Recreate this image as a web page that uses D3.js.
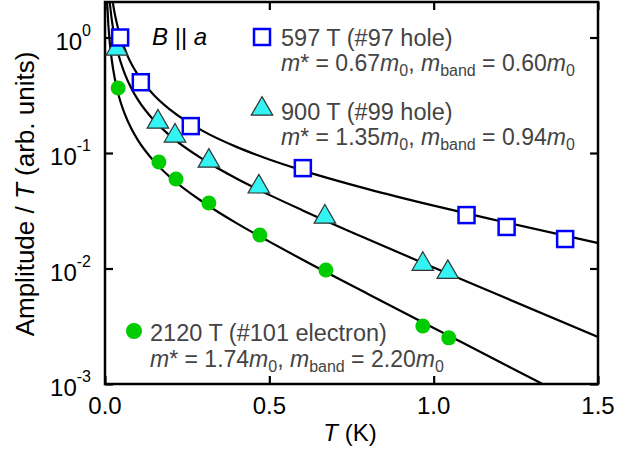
<!DOCTYPE html>
<html>
<head>
<meta charset="utf-8">
<script src="https://cdn.jsdelivr.net/npm/d3@7"></script>
<style>
  body { margin: 0; background: #fff; }
  text { font-family: "Liberation Sans", Arial, sans-serif; }
</style>
</head>
<body>
<div id="chart"></div>
<script>
// measured points (T in K, amplitude / T)
var holeT97 = [0.046, 0.109, 0.261, 0.602, 1.10, 1.222, 1.40];
var holeA97 = [1.0, 0.41, 0.171, 0.074, 0.029, 0.0229, 0.018];

var holeT99 = [0.036, 0.161, 0.213, 0.316, 0.468, 0.669, 0.967, 1.043];
var holeA99 = [0.78, 0.182, 0.138, 0.0836, 0.050, 0.0274, 0.0107, 0.0091];

var elecT101 = [0.04, 0.164, 0.216, 0.316, 0.471, 0.672, 0.967, 1.046];
var elecA101 = [0.366, 0.0836, 0.0596, 0.0369, 0.0195, 0.0097, 0.00318, 0.00251];

// fitted curves
var fitT97 = [0.024, 0.03, 0.04, 0.05, 0.07, 0.1, 0.15, 0.2, 0.3, 0.4, 0.5, 0.6, 0.8, 1.0, 1.2, 1.5];
var fitA97 = [1.985, 1.588, 1.191, 0.953, 0.680, 0.475, 0.315, 0.235, 0.154, 0.113, 0.0879, 0.0708, 0.0487, 0.0350, 0.0258, 0.0166];

var fitT99 = [0.0145, 0.02, 0.03, 0.04, 0.06, 0.08, 0.1, 0.15, 0.2, 0.3, 0.4, 0.5, 0.6, 0.8, 1.0, 1.2, 1.5];
var fitA99 = [2.02, 1.467, 0.977, 0.732, 0.487, 0.364, 0.290, 0.190, 0.1395, 0.0875, 0.0602, 0.0434, 0.0320, 0.0179, 0.0102, 0.00586, 0.00255];

var fitT101 = [0.0065, 0.01, 0.015, 0.02, 0.03, 0.04, 0.06, 0.08, 0.1, 0.15, 0.2, 0.3, 0.4, 0.5, 0.6, 0.8, 1.0, 1.2, 1.331];
var fitA101 = [2.03, 1.317, 0.878, 0.658, 0.438, 0.328, 0.218, 0.1627, 0.1293, 0.0842, 0.0611, 0.0373, 0.0247, 0.01708, 0.01196, 0.00602, 0.00306, 0.00156, 0.001];

var xTicks = [0, 0.5, 1.0, 1.5];
var yTickExp = [0, -1, -2, -3];

var legendNames = ["597 T (#97 hole)", "900 T (#99 hole)", "2120 T (#101 electron)"];
var legendMs = ["0.67", "1.35", "1.74"];
var legendMb = ["0.60", "0.94", "2.20"];

var width = 635, height = 450;
var plotLeft = 105, plotRight = 598, plotTop = 2, plotBottom = 384;

var svg = d3.select("#chart").append("svg")
    .attr("width", width)
    .attr("height", height);

var x = d3.scaleLinear().domain([0, 1.5]).range([plotLeft, plotRight]);
var y = d3.scaleLog().domain([0.001, 2.03]).range([plotBottom, plotTop]);

svg.append("clipPath").attr("id", "clip")
    .append("rect")
    .attr("x", plotLeft).attr("y", plotTop)
    .attr("width", plotRight - plotLeft).attr("height", plotBottom - plotTop);

// fit curves
var line = d3.line()
    .x(d => x(d[0]))
    .y(d => y(d[1]))
    .curve(d3.curveMonotoneX);

var fits = [[fitT97, fitA97], [fitT99, fitA99], [fitT101, fitA101]];
svg.append("g").attr("clip-path", "url(#clip)")
    .selectAll("path")
    .data(fits)
    .enter()
    .append("path")
    .attr("d", f => line(d3.zip(f[0], f[1])))
    .attr("fill", "none")
    .attr("stroke", "#000")
    .attr("stroke-width", 2.2);

// axes: ticks inward on all four sides
var yTickVals = yTickExp.map(e => Math.pow(10, e));
svg.append("g")
    .attr("transform", "translate(" + plotLeft + ",0)")
    .call(d3.axisRight(y).tickValues(yTickVals).tickSize(8).tickFormat(""))
    .call(g => g.select(".domain").remove());
svg.append("g")
    .attr("transform", "translate(" + plotRight + ",0)")
    .call(d3.axisLeft(y).tickValues(yTickVals).tickSize(8).tickFormat(""))
    .call(g => g.select(".domain").remove());
svg.append("g")
    .attr("transform", "translate(0," + plotBottom + ")")
    .call(d3.axisTop(x).tickValues(xTicks).tickSize(8).tickFormat(""))
    .call(g => g.select(".domain").remove());
svg.append("g")
    .attr("transform", "translate(0," + plotTop + ")")
    .call(d3.axisBottom(x).tickValues(xTicks).tickSize(8).tickFormat(""))
    .call(g => g.select(".domain").remove());
svg.selectAll(".tick line").attr("stroke", "#000").attr("stroke-width", 2.2);

svg.append("rect")
    .attr("x", plotLeft).attr("y", plotTop)
    .attr("width", plotRight - plotLeft).attr("height", plotBottom - plotTop)
    .attr("fill", "none")
    .attr("stroke", "#000")
    .attr("stroke-width", 2.5);

// tick labels
svg.selectAll(".xlab")
    .data(xTicks)
    .enter()
    .append("text")
    .attr("x", d => x(d))
    .attr("y", 414)
    .attr("text-anchor", "middle")
    .attr("font-size", 24)
    .text(d => d.toFixed(1));

var ylab = svg.selectAll(".ylab")
    .data(yTickExp)
    .enter()
    .append("text")
    .attr("x", 91)
    .attr("y", d => y(Math.pow(10, d)) + 12)
    .attr("text-anchor", "end")
    .attr("font-size", 24);
ylab.append("tspan").text("10");
ylab.append("tspan").attr("dy", -14).attr("font-size", 16).text(d => d);

// axis titles
var xt = svg.append("text")
    .attr("x", 350).attr("y", 441)
    .attr("text-anchor", "middle")
    .attr("font-size", 24);
xt.append("tspan").attr("font-style", "italic").text("T");
xt.append("tspan").text(" (K)");

var yt = svg.append("text")
    .attr("transform", "translate(34,194) rotate(-90)")
    .attr("text-anchor", "middle")
    .attr("font-size", 26);
yt.append("tspan").text("Amplitude / ");
yt.append("tspan").attr("font-style", "italic").text("T");
yt.append("tspan").text(" (arb. units)");

// markers
var g97 = d3.zip(holeT97, holeA97);
var g99 = d3.zip(holeT99, holeA99);
var g101 = d3.zip(elecT101, elecA101);

var tri = d3.symbol().type(d3.symbolTriangle).size(200);

svg.selectAll(".dot")
    .data(g101)
    .enter()
    .append("circle")
    .attr("cx", d => x(d[0]))
    .attr("cy", d => y(d[1]))
    .attr("r", 7.5)
    .attr("fill", "#00cc00");

svg.selectAll(".tri")
    .data(g99)
    .enter()
    .append("path")
    .attr("d", tri)
    .attr("transform", d => "translate(" + x(d[0]) + "," + (y(d[1]) - 1) + ")")
    .attr("fill", "#33f3f3")
    .attr("stroke", "#333")
    .attr("stroke-width", 1.2);

svg.selectAll(".sq")
    .data(g97)
    .enter()
    .append("rect")
    .attr("x", d => x(d[0]) - 8)
    .attr("y", d => y(d[1]) - 8)
    .attr("width", 16).attr("height", 16)
    .attr("fill", "#fff")
    .attr("stroke", "#0000ff")
    .attr("stroke-width", 2.5);

// B || a
var ba = svg.append("text").attr("x", 152).attr("y", 45).attr("font-size", 24);
ba.append("tspan").attr("font-style", "italic").text("B");
ba.append("tspan").text(" || ");
ba.append("tspan").attr("font-style", "italic").text("a");

// legends
function massLine(sel, xPos, yPos, ms, mb) {
    var t = sel.append("text").attr("x", xPos).attr("y", yPos)
        .attr("font-size", 23).attr("fill", "#444");
    t.append("tspan").attr("font-style", "italic").text("m");
    t.append("tspan").text("* = " + ms);
    t.append("tspan").attr("font-style", "italic").text("m");
    t.append("tspan").attr("font-size", 16).attr("dy", 5).text("0");
    t.append("tspan").attr("dy", -5).text(", ");
    t.append("tspan").attr("font-style", "italic").text("m");
    t.append("tspan").attr("font-size", 16).attr("dy", 5).text("band");
    t.append("tspan").attr("dy", -5).text(" = " + mb);
    t.append("tspan").attr("font-style", "italic").text("m");
    t.append("tspan").attr("font-size", 16).attr("dy", 5).text("0");
}

svg.append("rect")
    .attr("x", 254).attr("y", 29).attr("width", 16).attr("height", 16)
    .attr("fill", "#fff").attr("stroke", "#0000ff").attr("stroke-width", 2.5);
svg.append("text").attr("x", 281).attr("y", 46).attr("font-size", 23.5)
    .attr("fill", "#444").text(legendNames[0]);
massLine(svg, 281, 71, legendMs[0], legendMb[0]);

svg.append("path").attr("d", tri)
    .attr("transform", "translate(262,109)")
    .attr("fill", "#33f3f3").attr("stroke", "#333").attr("stroke-width", 1.2);
svg.append("text").attr("x", 281).attr("y", 120).attr("font-size", 23.5)
    .attr("fill", "#444").text(legendNames[1]);
massLine(svg, 281, 145, legendMs[1], legendMb[1]);

svg.append("circle").attr("cx", 134).attr("cy", 331).attr("r", 8)
    .attr("fill", "#00cc00");
svg.append("text").attr("x", 150).attr("y", 341).attr("font-size", 23.5)
    .attr("fill", "#444").text(legendNames[2]);
massLine(svg, 150, 367, legendMs[2], legendMb[2]);
</script>
</body>
</html>
